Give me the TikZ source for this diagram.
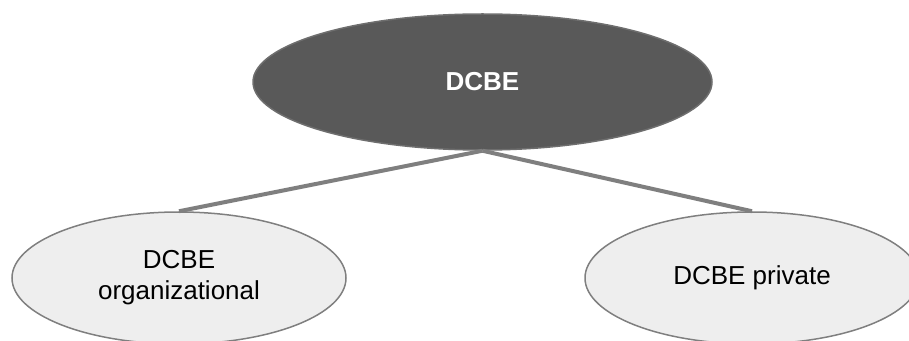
\documentclass[tikz,border=0pt]{standalone}
\usepackage{fontspec}
\setmainfont{Liberation Sans}
\usetikzlibrary{shapes.geometric}

\definecolor{rootfill}{HTML}{595959}
\definecolor{rootedge}{HTML}{6E6E6E}
\definecolor{subfill}{HTML}{EEEEEE}
\definecolor{subedge}{HTML}{7F7F7F}
\definecolor{branchgray}{HTML}{7F7F7F}

\begin{document}
\begin{tikzpicture}[x=1pt,y=1pt]
        \tikzstyle{unit}=[ellipse, inner sep=0pt, line width=1.5pt, align=center, font=\fontsize{26}{31}\selectfont]
        \tikzstyle{root unit}=[unit, fill=rootfill, draw=rootedge, text=white, font=\fontsize{26}{31}\selectfont\bfseries, minimum width=459pt, minimum height=136pt]
        \tikzstyle{sub unit}=[unit, fill=subfill, draw=subedge, minimum width=334pt, minimum height=132pt]
        \tikzstyle{branch}=[draw=branchgray, line width=4pt]

        \useasboundingbox (0,0) rectangle (909,340);
        \clip (0,0) rectangle (909,340);

        % Top of the tree
        \node[root unit] (dcbe) at (482.5,258) {DCBE};

        % The two kinds below it
        \node[sub unit] (org) at (179,62) {DCBE\\organizational};
        \node[sub unit] (priv) at (752,62) {DCBE private};

        % Branches
        \path[branch] (dcbe.south) -- (org.north);
        \path[branch] (dcbe.south) -- (priv.north);

\end{tikzpicture}
\end{document}
